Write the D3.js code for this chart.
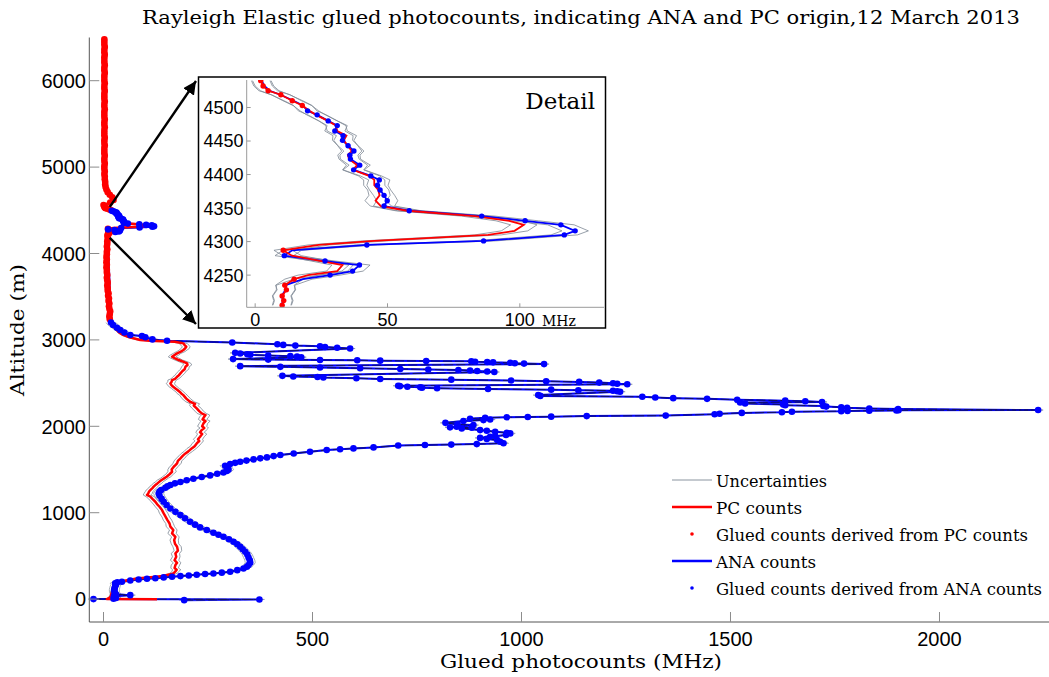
<!DOCTYPE html>
<html>
<head>
<meta charset="utf-8">
<script src="https://cdn.jsdelivr.net/npm/d3@7"></script>
<style>
  body { margin: 0; background: #fff; }
  svg { display: block; }
</style>
</head>
<body>
<div id="chart"></div>
<script>
// ---- data ----
// PC counts below ~3200 m: [altitude m, counts MHz, uncertainty MHz]
const pcLow = [
  [-3,128,3],[0,8,3],[10,14,3],[40,18,3],[80,20,3],[120,22,3],[160,26,4],[200,40,5],[220,60,6],[239,80,7],
  [250,105,7],[259,128,8],[270,145,8],[278,152,8],[290,163,9],[300,168,9],[320,172,8],[340,175,10],[360,170,9],[394,172,10],
  [420,176,9],[450,170,10],[490,174,9],[529,172,10],[560,178,9],[606,176,10],[640,171,9],[683,169,10],[720,172,9],[760,164,10],
  [800,167,9],[838,160,10],[875,158,9],[915,153,10],[950,149,9],[992,144,10],[1030,140,9],[1069,134,10],[1100,128,9],[1127,124,10],
  [1160,117,9],[1185,112,10],[1205,104,9],[1223,107,10],[1245,109,9],[1262,112,10],[1285,117,9],[1301,120,10],[1320,124,9],[1339,129,10],
  [1360,134,9],[1378,139,10],[1400,146,9],[1416,151,10],[1445,158,9],[1474,164,10],[1500,163,9],[1532,168,10],[1550,172,9],[1571,176,10],
  [1600,178,9],[1629,184,10],[1660,190,9],[1686,196,10],[1710,203,10],[1744,211,11],[1770,218,10],[1802,223,11],[1830,229,10],[1850,226,11],
  [1879,231,10],[1910,236,11],[1930,231,10],[1956,235,11],[1980,241,10],[2000,236,11],[2033,239,10],[2060,244,11],[2080,237,10],[2110,241,11],
  [2130,244,10],[2149,235,11],[2175,229,10],[2207,223,11],[2240,216,10],[2260,219,11],[2284,207,10],[2320,198,10],[2361,191,9],[2380,186,10],
  [2400,182,9],[2420,177,10],[2438,172,9],[2460,166,10],[2480,162,9],[2496,160,10],[2515,163,9],[2535,164,10],[2550,171,9],[2573,176,10],
  [2590,180,9],[2612,184,10],[2640,189,9],[2660,194,10],[2689,196,9],[2710,201,10],[2728,200,9],[2745,192,10],[2767,180,9],[2790,170,10],
  [2805,164,9],[2825,170,10],[2844,176,9],[2865,185,10],[2883,191,9],[2900,195,10],[2921,198,9],[2940,194,10],[2960,191,9],[2978,170,8],
  [2990,110,6],[2998,88,6],[3030,62,5],[3056,48,5],[3085,38,4],[3114,32,4],[3145,26,4],[3172,20,4],[3200,16,3],[3225,14,3]
];

// PC counts 3240-4200 m, one value every 30 m
const pcMidStart = 3240, pcMidStep = 30;
const pcMidVals = [15,14,15,16,14,13,14,12,13,11,12,10,10,9,10,9,8,9,8,8,7,8,7,8,7,8,8,9,8,9,9,10,10];

// PC counts 4560-6480 m, one value every 30 m
const pcTopStart = 4560, pcTopStep = 30;
const pcTopVals = [0,16,24,21,15,10,7,5,4,4,3,3,2,3,2,2,3,2,2,3,2,2,2,3,2,2,3,2,2,2,3,2,2,3,2,2,2,3,2,2,3,2,2,2,3,2,2,3,2,2,2,3,2,2,3,2,2,2,3,2,2,3,2,2,2];

// detail layer 4205-4540 m: [altitude, PC, ANA, uncertainty, glued source]
const detailRows = [
  [4540,2.1,2.5,3.5,"P"],[4532,3.0,3.5,3.5,"P"],[4525,4.9,5.5,3.5,"P"],[4519,9.7,9.5,3.5,"P"],[4510,14.0,14.5,3.5,"P"],
  [4503,17.8,18.0,3.5,"P"],[4495,20.5,19.8,3.5,"A"],[4489,23.0,23.4,3.5,"A"],[4480,27.5,27.6,3.5,"A"],[4473,30.5,31.0,3.8,"A"],
  [4465,31.0,30.1,3.8,"A"],[4458,34.5,33.2,3.8,"A"],[4451,33.5,33.0,3.8,"A"],[4443,35.0,35.1,3.8,"A"],[4435,36.5,37.3,3.8,"A"],
  [4429,35.0,35.8,3.8,"A"],[4423,35.5,36.0,3.8,"A"],[4414,38.5,39.5,4,"A"],[4407,37.0,37.2,4,"A"],[4398,43.0,43.7,4,"A"],
  [4392,45.0,46.9,4,"A"],[4384,45.0,46.2,4,"A"],[4377,46.5,47.2,4,"A"],[4369,47.0,48.7,4,"A"],[4361,45.5,49.9,4,"A"],
  [4353,47.5,48.7,4,"A"],[4346,57.5,58.2,4.5,"A"],[4338,83.0,85.6,5,"A"],[4331,96.0,102.0,5,"A"],[4325,101.5,115.5,5,"A"],
  [4316,98.0,120.9,5,"A"],[4310,88.0,116.8,5,"A"],[4301,45.0,86.3,4.5,"A"],[4295,24.0,42.2,4,"A"],[4287,10.6,14.0,3.5,"P"],
  [4279,13.9,11.0,3.5,"A"],[4271,25.0,26.4,3.8,"A"],[4265,33.0,39.4,4,"A"],[4256,31.0,36.8,4,"A"],[4250,20.0,28.3,3.8,"A"],
  [4244,14.7,18.0,3.5,"P"],[4235,11.2,11.5,3.5,"P"],[4228,11.8,11.5,3.5,"P"],[4219,10.2,10.0,3.5,"P"],[4212,10.8,10.5,3.5,"P"],
  [4205,10.2,10.0,3.5,"P"]
];

// ANA counts below ~3200 m (all glued from ANA): [altitude, counts]
const anaProfile = [
  [-12,193],[-4,373],[0,-24],[5,24],[12,30],[22,27],[34,25],[46,64],[56,30],[72,27],[92,26],[112,26],[132,27],[150,28],[168,30],[184,28],[195,33],
  [200,44],[215,64],[227,84],[235,104],[242,124],[251,144],[258,164],[266,184],[274,204],[282,223],[290,243],[297,263],[306,283],[316,303],
  [335,320],[355,335],[375,343],[394,347],[421,351],[450,350],[482,347],[515,344],[548,339],[577,333],[606,327],[635,320],[664,311],[693,300],
  [722,287],[745,275],[768,263],[800,247],[830,231],[862,219],[895,207],[935,195],[972,184],[1010,172],[1049,160],[1090,151],[1127,144],
  [1160,139],[1196,134],[1223,132],[1245,134],[1262,138],[1289,148],[1305,153],[1320,160],[1340,171],[1355,184],[1375,199],[1393,215],
  [1413,235],[1432,255],[1450,272],[1466,287],[1483,295],[1497,299],[1511,298],[1524,295],[1544,291],[1563,303],[1577,315],[1590,327],
  [1603,342],[1617,359],[1629,375],[1640,391],[1655,407],[1667,423],[1686,455],[1706,494],[1725,534],[1735,566],[1744,598],[1756,646],
  [1777,705],[1783,769],[1788,832],[1794,893],[1803,957],[1821,949],[1841,942],[1854,917],[1866,901],[1879,925],[1885,937],[1899,963],
  [1918,973],[1925,965],[1937,937],[1948,917],[1956,901],[1976,857],[1983,881],[1988,829],[1995,845],[2014,885],[2022,847],[2040,818],
  [2061,861],[2072,909],[2078,925],[2088,877],[2099,913],[2104,965],[2108,1015],[2112,1071],[2118,1156],[2124,1345],[2140,1462],[2145,1474],
  [2155,1527],[2162,1623],[2168,1647],[2175,1765],[2178,1780],[2180,1832],[2183,1897],[2185,1902],[2188,2236],
  [2200,1901],[2206,1832],[2214,1779],[2220,1765],[2228,1729],[2236,1722],[2244,1631],[2252,1626],[2264,1535],[2275,1523],
  [2282,1719],[2290,1679],[2297,1631],[2308,1516],[2318,1444],[2326,1363],[2334,1320],[2342,1289],[2352,1045],[2362,1040],
  [2400,1236],[2406,1229],[2412,1219],[2418,1136],[2424,1071],[2432,920],[2440,798],[2446,762],[2452,758],[2458,727],[2465,709],[2470,705],
  [2486,1253],[2492,1229],[2498,1219],[2506,1186],[2514,1138],[2522,1059],[2530,975],[2540,832],[2548,662],[2556,605],[2564,526],[2570,512],[2576,454],[2584,428],
  [2628,935],[2634,918],[2640,894],[2646,877],[2652,849],[2658,777],[2664,710],[2672,614],[2680,518],[2688,423],[2696,327],
  [2720,1054],[2726,1006],[2730,984],[2735,973],[2740,932],[2744,918],[2748,889],[2752,880],[2756,772],[2760,662],[2764,607],[2768,518],[2772,394],[2778,310],
  [2800,473],[2806,463],[2812,447],[2820,394],[2828,351],[2834,344],[2842,327],[2850,315],
  [2900,590],[2910,559],[2918,530],[2926,518],[2934,459],[2942,430],[2950,416],[2970,308],[2990,152],[3006,117],[3030,100],[3045,92],
  [3056,64],[3085,50],[3114,40],[3140,32],[3172,23],[3200,18]
];
const anaUnc = 12;

const xTicks = [0, 500, 1000, 1500, 2000];
const yTicks = [0, 1000, 2000, 3000, 4000, 5000, 6000];
const detailXTicks = [0, 50, 100];
const detailYTicks = [4250, 4300, 4350, 4400, 4450, 4500];
const legendLabels = ["Uncertainties", "PC counts", "Glued counts derived from PC counts", "ANA counts", "Glued counts derived from ANA counts"];
const titleText = "Rayleigh Elastic glued photocounts, indicating ANA and PC origin,12 March 2013";

// ---- build series ----
const detail = detailRows.map(r => ({ alt: r[0], pc: r[1], ana: r[2], err: r[3], src: r[4] }))
  .sort((a, b) => a.alt - b.alt);
const pcMid = pcMidVals.map((v, i) => ({ alt: pcMidStart + i * pcMidStep, val: v }));
const pcTop = pcTopVals.map((v, i) => ({ alt: pcTopStart + i * pcTopStep, val: v }));
const pcLowPts = pcLow.map(r => ({ alt: r[0], val: r[1], err: r[2] }));
const pcDetail = detail.map(d => ({ alt: d.alt, val: d.pc, err: d.err, src: d.src }));
const anaDetail = detail.map(d => ({ alt: d.alt, val: d.ana, err: d.err, src: d.src }));
const anaLowPts = anaProfile.map(r => ({ alt: r[0], val: r[1], err: anaUnc }));

const pcSeries = pcLowPts.concat(pcMid, pcDetail, pcTop);
const anaSeries = anaLowPts.concat(anaDetail);
const gluedPc = pcMid.concat(pcDetail.filter(d => d.src == "P"), pcTop);
const gluedAna = anaLowPts.concat(anaDetail.filter(d => d.src == "A"));

// ---- main axes ----
const W = 1049, H = 677;
const svg = d3.select("#chart").append("svg").attr("width", W).attr("height", H);

const x = d3.scaleLinear().domain([-34, 2262]).range([89.3, 1049]);
const y = d3.scaleLinear().domain([-265, 6500]).range([622, 37.5]);

const red = "#ff0000", blue = "#0000ff", grey = "#7d8894";
const serif = "'DejaVu Serif', serif", sans = "'Liberation Sans', Arial, sans-serif";

function line(xs, ys, key) {
  return d3.line().x(d => xs(key ? key(d) : d.val)).y(d => ys(d.alt));
}

const plot = svg.append("g");

// uncertainty lines (grey) around PC and detail layer
[[pcLowPts, +1], [pcLowPts, -1], [pcDetail, +1], [pcDetail, -1], [anaDetail, +1], [anaDetail, -1]].forEach(function (p) {
  plot.append("path")
    .attr("d", line(x, y, d => d.val + p[1] * d.err)(p[0]))
    .attr("fill", "none").attr("stroke", grey).attr("stroke-width", 0.8);
});
[+1, -1].forEach(function (s) {
  plot.append("path")
    .attr("d", line(x, y, d => d.val + s * d.err)(anaLowPts))
    .attr("fill", "none").attr("stroke", "#8e98a6").attr("stroke-width", 0.8);
});

plot.append("path").attr("d", line(x, y)(anaSeries))
  .attr("fill", "none").attr("stroke", blue).attr("stroke-width", 2).attr("stroke-linejoin", "round");
// ANA uncertainty band drawn over the blue streaks, as in the figure
plot.append("path").attr("d", line(x, y)(anaLowPts))
  .attr("fill", "none").attr("stroke", "#141450").attr("stroke-width", 0.9).attr("stroke-dasharray", "9,3");
plot.append("path").attr("d", line(x, y)(pcSeries))
  .attr("fill", "none").attr("stroke", red).attr("stroke-width", 2.5).attr("stroke-linejoin", "round");

plot.selectAll(".pcdot").data(gluedPc).enter().append("circle")
  .attr("class", "pcdot").attr("cx", d => x(d.val)).attr("cy", d => y(d.alt)).attr("r", 3.3).attr("fill", red);
plot.selectAll(".anadot").data(gluedAna).enter().append("circle")
  .attr("class", "anadot").attr("cx", d => x(d.val)).attr("cy", d => y(d.alt)).attr("r", 3.3).attr("fill", blue);

// axes lines and inward ticks
const axisCol = "#555", tickCol = "#8c8c8c";
svg.append("line").attr("x1", 89.3).attr("x2", 89.3).attr("y1", 37.5).attr("y2", 622).attr("stroke", axisCol);
svg.append("line").attr("x1", 89.3).attr("x2", W).attr("y1", 622).attr("y2", 622).attr("stroke", axisCol);

svg.selectAll(".xt").data(xTicks).enter().append("line")
  .attr("x1", d => x(d)).attr("x2", d => x(d)).attr("y1", 622).attr("y2", 612).attr("stroke", tickCol);
svg.selectAll(".yt").data(yTicks).enter().append("line")
  .attr("x1", 89.3).attr("x2", 99.3).attr("y1", d => y(d)).attr("y2", d => y(d)).attr("stroke", tickCol);

svg.selectAll(".xl").data(xTicks).enter().append("text")
  .attr("x", d => x(d)).attr("y", 646).attr("text-anchor", "middle")
  .style("font-family", sans).style("font-size", "20px").text(d => d);
svg.selectAll(".yl").data(yTicks).enter().append("text")
  .attr("x", 86).attr("y", d => y(d)).attr("dy", "0.36em").attr("text-anchor", "end")
  .style("font-family", sans).style("font-size", "20px").text(d => d);

// titles (the axes box runs past the right edge, so its centre is at x = 581)
svg.append("text").attr("x", 581).attr("y", 24).attr("text-anchor", "middle")
  .attr("textLength", 878).attr("lengthAdjust", "spacingAndGlyphs")
  .style("font-family", serif).style("font-size", "19px").text(titleText);
svg.append("text").attr("x", 581).attr("y", 668).attr("text-anchor", "middle")
  .attr("textLength", 282).attr("lengthAdjust", "spacingAndGlyphs")
  .style("font-family", serif).style("font-size", "19px").text("Glued photocounts (MHz)");
svg.append("text").attr("transform", "translate(24,330) rotate(-90)").attr("text-anchor", "middle")
  .attr("textLength", 132).attr("lengthAdjust", "spacingAndGlyphs")
  .style("font-family", serif).style("font-size", "18.5px").text("Altitude (m)");

// ---- legend ----
const lg = svg.append("g");
const lgY = [480, 507, 534, 561, 588];
lg.append("line").attr("x1", 672).attr("x2", 712).attr("y1", lgY[0]).attr("y2", lgY[0]).attr("stroke", grey).attr("stroke-width", 0.9);
lg.append("line").attr("x1", 672).attr("x2", 712).attr("y1", lgY[1]).attr("y2", lgY[1]).attr("stroke", red).attr("stroke-width", 2.5);
lg.append("circle").attr("cx", 692).attr("cy", lgY[2]).attr("r", 1.8).attr("fill", red);
lg.append("line").attr("x1", 672).attr("x2", 712).attr("y1", lgY[3]).attr("y2", lgY[3]).attr("stroke", blue).attr("stroke-width", 2.5);
lg.append("circle").attr("cx", 692).attr("cy", lgY[4]).attr("r", 1.8).attr("fill", blue);
const lgLen = [111, 86, 312, 100, 326];
lg.selectAll(".lt").data(legendLabels).enter().append("text")
  .attr("x", 716).attr("y", (d, i) => lgY[i] + 6.5)
  .attr("textLength", (d, i) => lgLen[i]).attr("lengthAdjust", "spacingAndGlyphs")
  .style("font-family", serif).style("font-size", "16px").text(d => d);

// ---- arrows to the detail box ----
const defs = svg.append("defs");
defs.append("marker").attr("id", "head").attr("viewBox", "0 0 10 10").attr("refX", 10).attr("refY", 5)
  .attr("markerWidth", 5.5).attr("markerHeight", 5.5).attr("orient", "auto")
  .append("path").attr("d", "M0,0 L10,5 L0,10 z").attr("fill", "#000");
[[4540, 81], [4180, 324]].forEach(function (a) {
  svg.append("line").attr("x1", x(15)).attr("y1", y(a[0])).attr("x2", 196).attr("y2", a[1])
    .attr("stroke", "#000").attr("stroke-width", 2.4).attr("marker-end", "url(#head)");
});

// ---- detail inset ----
const inset = svg.append("g");
inset.append("rect").attr("x", 198.5).attr("y", 77).attr("width", 407).attr("height", 251)
  .attr("fill", "#fff").attr("stroke", "#000").attr("stroke-width", 1.5);

const xi = d3.scaleLinear().domain([-3.2, 131.8]).range([246.7, 604]);
const yi = d3.scaleLinear().domain([4202, 4541]).range([307.3, 80]);

defs.append("clipPath").attr("id", "iclip").append("rect")
  .attr("x", 246.7).attr("y", 80).attr("width", 604 - 246.7).attr("height", 307.3 - 80);
const ip = inset.append("g").attr("clip-path", "url(#iclip)");

[[pcDetail, +1], [pcDetail, -1], [anaDetail, +1], [anaDetail, -1]].forEach(function (p) {
  ip.append("path").attr("d", line(xi, yi, d => d.val + p[1] * d.err)(p[0]))
    .attr("fill", "none").attr("stroke", grey).attr("stroke-width", 0.8);
});
ip.append("path").attr("d", line(xi, yi)(anaDetail))
  .attr("fill", "none").attr("stroke", blue).attr("stroke-width", 1.8);
ip.append("path").attr("d", line(xi, yi)(pcDetail))
  .attr("fill", "none").attr("stroke", red).attr("stroke-width", 1.8);
ip.selectAll(".ipd").data(pcDetail.filter(d => d.src == "P")).enter().append("circle")
  .attr("cx", d => xi(d.val)).attr("cy", d => yi(d.alt)).attr("r", 2.7).attr("fill", red);
ip.selectAll(".iad").data(anaDetail.filter(d => d.src == "A")).enter().append("circle")
  .attr("cx", d => xi(d.val)).attr("cy", d => yi(d.alt)).attr("r", 2.7).attr("fill", blue);

const iaxis = "#9a9a9a";
inset.append("line").attr("x1", 246.7).attr("x2", 246.7).attr("y1", 80).attr("y2", 307.3).attr("stroke", iaxis);
inset.append("line").attr("x1", 246.7).attr("x2", 604).attr("y1", 307.3).attr("y2", 307.3).attr("stroke", iaxis);
inset.selectAll(".ixt").data(detailXTicks).enter().append("line")
  .attr("x1", d => xi(d)).attr("x2", d => xi(d)).attr("y1", 307.3).attr("y2", 303.3).attr("stroke", iaxis);
inset.selectAll(".iyt").data(detailYTicks).enter().append("line")
  .attr("x1", 246.7).attr("x2", 250.7).attr("y1", d => yi(d)).attr("y2", d => yi(d)).attr("stroke", iaxis);
inset.selectAll(".ixl").data(detailXTicks).enter().append("text")
  .attr("x", d => xi(d)).attr("y", 326).attr("text-anchor", "middle")
  .style("font-family", sans).style("font-size", "18px").text(d => d);
inset.selectAll(".iyl").data(detailYTicks).enter().append("text")
  .attr("x", 243.5).attr("y", d => yi(d)).attr("dy", "0.36em").attr("text-anchor", "end")
  .style("font-family", sans).style("font-size", "18px").text(d => d);
inset.append("text").attr("x", 542).attr("y", 326)
  .style("font-family", serif).style("font-size", "14px").text("MHz");
inset.append("text").attr("x", 595).attr("y", 109).attr("text-anchor", "end")
  .style("font-family", serif).style("font-size", "23px").text("Detail");
</script>
</body>
</html>
